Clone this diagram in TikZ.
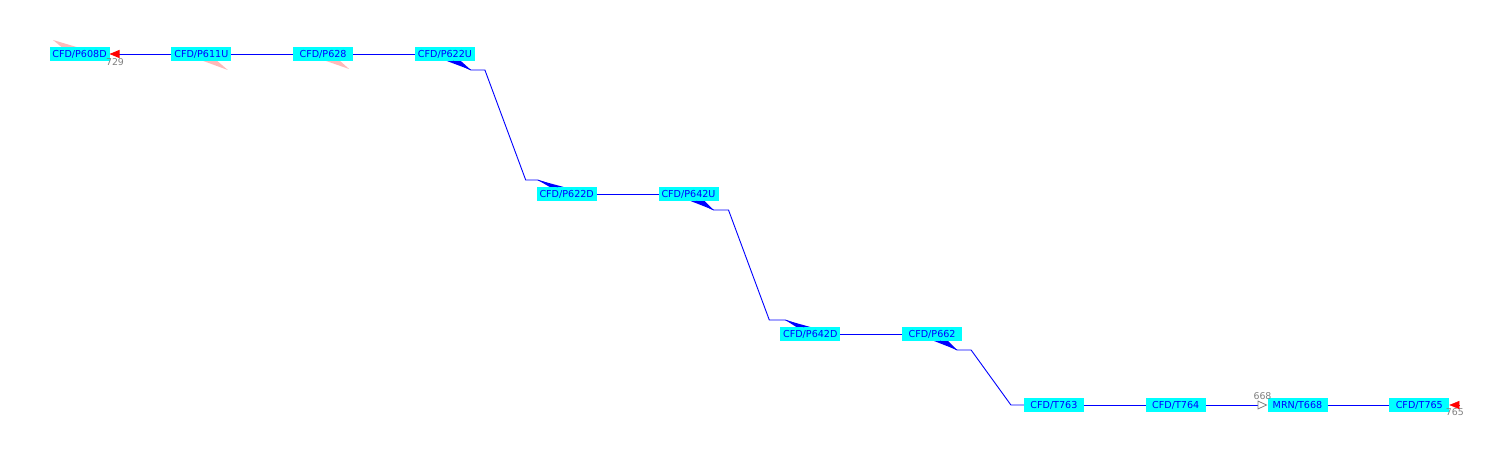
\documentclass[tikz,border=0pt]{standalone}
\usepackage{fontspec}
\usepackage{xcolor}
\usetikzlibrary{positioning,calc,arrows.meta,backgrounds}

\newfontfamily\dejavu{DejaVu Sans}
\newcommand\stnfont{\dejavu\fontsize{9.6}{11}\selectfont}
\newcommand\kmfont{\dejavu\fontsize{9.4}{10}\selectfont}
\definecolor{stncyan}{RGB}{0,255,255}
\definecolor{stnblue}{RGB}{0,0,255}
\definecolor{kmgray}{RGB}{128,128,128}
\definecolor{wedgepink}{RGB}{255,185,185}

\tikzset{
  station/.style={fill=stncyan, text=stnblue, minimum width=60pt, minimum height=14pt,
    inner sep=0pt, outer sep=0pt, font=\stnfont},
  track/.style={draw=stnblue, line width=0.9pt},
  km/.style={text=kmgray, font=\kmfont, inner sep=0pt},
}

\begin{document}
\begin{tikzpicture}[x=1pt,y=-1pt]
    \useasboundingbox (0,0) rectangle (1500,460);

    % top row
    \node[station] (p608d) at (79.5,54) {CFD/P608D};
    \node[station, right=61.8pt of p608d] (p611u) {CFD/P611U};
    \node[station, right=61.8pt of p611u] (p628) {CFD/P628};
    \node[station, right=61.8pt of p628] (p622u) {CFD/P622U};

    % second and third rows
    \node[station] (p622d) at ($(p622u)+(121.8,140)$) {CFD/P622D};
    \node[station, right=61.8pt of p622d] (p642u) {CFD/P642U};
    \node[station] (p642d) at ($(p642u)+(121.8,140)$) {CFD/P642D};
    \node[station, right=61.8pt of p642d] (p662) {CFD/P662};

    % bottom row
    \node[station] (t763) at ($(p662)+(121.8,71)$) {CFD/T763};
    \node[station, right=61.8pt of t763] (t764) {CFD/T764};
    \node[station, right=61.8pt of t764] (t668) {MRN/T668};
    \node[station, right=61.8pt of t668] (t765) {CFD/T765};
    \coordinate (t765end) at ($(t765.east)+(10,0)$);

    \node[km] (km729) at ($(p608d.south east)+(5.5,1.5)$) {729};
    \node[km] (km668) at ($(t668.north west)+(-5,-1.5)$) {668};
    \node[km] (km765) at ($(t765.south east)+(5.5,0.5)$) {765};

    \begin{pgfonlayer}{background}
      % pale wedges
      \fill[wedgepink] ($(p608d.north)+(-26.5,-7)$) -- ($(p608d.north)+(-18,0)$) -- ($(p608d.north)+(-3,0)$) -- cycle;
      \fill[wedgepink] ($(p611u.south)+(2,0)$) -- ($(p611u.south)+(16,0)$) -- ($(p611u.south)+(26.5,9)$) -- cycle;
      \fill[wedgepink] ($(p628.south)+(3,0)$) -- ($(p628.south)+(17,0)$) -- ($(p628.south)+(26,8)$) -- cycle;

      % dark wedges
      \fill[stnblue] ($(p622u.south)+(2,0)$) -- ($(p622u.south)+(16,0)$) -- ($(p622u.south)+(26,9)$) -- cycle;
      \fill[stnblue] ($(p622d.north)+(-29,-7)$) -- ($(p622d.north)+(-17,0)$) -- ($(p622d.north)+(-3,0)$) -- cycle;
      \fill[stnblue] ($(p642u.south)+(2,0)$) -- ($(p642u.south)+(16,0)$) -- ($(p642u.south)+(25,9)$) -- cycle;
      \fill[stnblue] ($(p642d.north)+(-25,-7)$) -- ($(p642d.north)+(-14,0)$) -- ($(p642d.north)+(0,0)$) -- cycle;
      \fill[stnblue] ($(p662.south)+(2,0)$) -- ($(p662.south)+(16,0)$) -- ($(p662.south)+(25,9)$) -- cycle;
    \end{pgfonlayer}

    \draw[track, -{Triangle[red, length=10pt, width=8pt]}] (p611u) -- (p608d);
    \draw[track] (p611u) -- (p628);
    \draw[track] (p628) -- (p622u);

    \draw[track] ($(p622u.south)+(8,0)$) -- ($(p622u.south)+(26,9)$) -- ($(p622u.south)+(40,9)$)
      -- ($(p622d.north)+(-41,-7)$) -- ($(p622d.north)+(-29,-7)$) -- ($(p622d.north)+(-9,0)$);
    \draw[track] (p622d) -- (p642u);

    \draw[track] ($(p642u.south)+(8,0)$) -- ($(p642u.south)+(25,9)$) -- ($(p642u.south)+(40,9)$)
      -- ($(p642d.north)+(-41,-7)$) -- ($(p642d.north)+(-25,-7)$) -- ($(p642d.north)+(-6,0)$);
    \draw[track] (p642d) -- (p662);

    \draw[track] ($(p662.south)+(8,0)$) -- ($(p662.south)+(25,9)$) -- ($(p662.south)+(39,9)$)
      -- ($(t763.west)+(-13,0)$) -- (t763.west);

    \draw[track] (t763) -- (t764);
    \draw[track, -{Triangle[color=kmgray, open, length=10pt, width=9pt, line width=0.8pt]}] (t764) -- (t668);
    \draw[track] (t668) -- (t765);
    \draw[draw=red, -{Triangle[red, length=10pt, width=8pt]}] (t765end) -- (t765.east);
\end{tikzpicture}
\end{document}
